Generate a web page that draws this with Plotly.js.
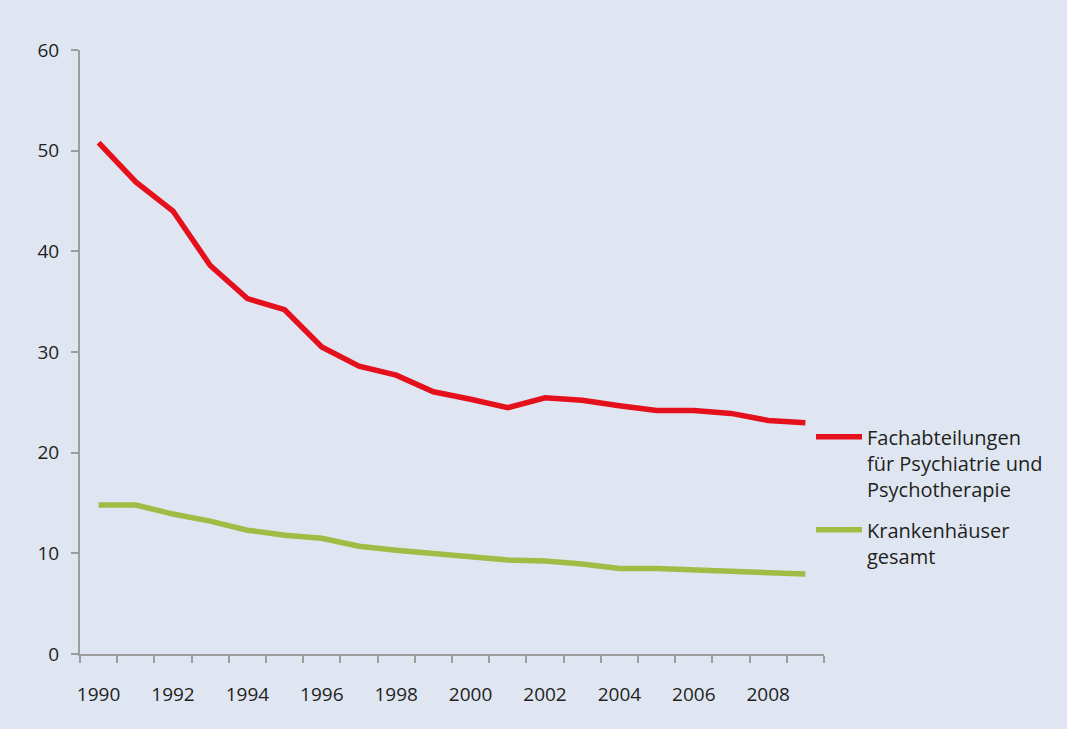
<!DOCTYPE html>
<html>
<head>
<meta charset="utf-8">
<script src="https://cdn.plot.ly/plotly-3.0.1.min.js"></script>
<style>
html,body{margin:0;padding:0;background:#ffffff;}
#chart{width:1067px;height:729px;}
</style>
</head>
<body>
<div id="chart"></div>
<script>
var years = [1990,1991,1992,1993,1994,1995,1996,1997,1998,1999,2000,2001,2002,2003,2004,2005,2006,2007,2008,2009];
var psychiatrie = [50.8,46.9,44.0,38.6,35.3,34.2,30.5,28.6,27.7,26.05,25.3,24.46,25.45,25.2,24.66,24.2,24.2,23.9,23.2,22.97];
var gesamt = [14.8,14.8,13.9,13.2,12.3,11.8,11.5,10.7,10.3,9.93,9.65,9.33,9.23,8.94,8.5,8.5,8.34,8.27,8.01,7.94];
var seriesNames = ["Fachabteilungen<br>für Psychiatrie und<br>Psychotherapie", "Krankenhäuser<br>gesamt"];
var xTickVals = [1990,1992,1994,1996,1998,2000,2002,2004,2006,2008];
var xTickText = ["1990","1992","1994","1996","1998","2000","2002","2004","2006","2008"];
var yTickVals = [0,10,20,30,40,50,60];

var FONT = "Open Sans, Noto Sans, sans-serif";
var traces = [
  {x: years, y: psychiatrie, name: seriesNames[0], type: "scatter", mode: "lines", legendgroup: "a",
   line: {color: "#e4111c", width: 5.5}},
  {x: years, y: gesamt, name: seriesNames[1], type: "scatter", mode: "lines", legendgroup: "b",
   line: {color: "#a1bb45", width: 5.5}}
];
var layout = {
  width: 1067, height: 729,
  paper_bgcolor: "#dfe6f2", plot_bgcolor: "#dfe6f2",
  margin: {l: 80, r: 243, t: 50, b: 75, pad: 0},
  font: {family: FONT, size: 19, color: "#231f20"},
  showlegend: true,
  legend: {x: 0.9825, xanchor: "left", y: 0.392, yanchor: "top", valign: "top",
           bgcolor: "rgba(0,0,0,0)", itemwidth: 46, tracegroupgap: 12,
           font: {family: FONT, size: 20, color: "#231f20"}},
  xaxis: {
    type: "linear", range: [1989.5, 2009.5], showgrid: false, zeroline: false,
    showline: true, linecolor: "#9d9d9d", linewidth: 2,
    tickmode: "array", tickvals: xTickVals, ticktext: xTickText, ticks: "",
    ticklabelstandoff: 22,
    minor: {tick0: 1989.5, dtick: 1, ticks: "outside", ticklen: 7, tickwidth: 2, tickcolor: "#9d9d9d", showgrid: false},
    tickfont: {family: FONT, size: 19, color: "#231f20"}
  },
  yaxis: {
    range: [0, 60], showgrid: false, zeroline: false,
    showline: true, linecolor: "#9d9d9d", linewidth: 2,
    tickmode: "array", tickvals: yTickVals, ticks: "outside", ticklen: 7, tickwidth: 2, tickcolor: "#9d9d9d",
    ticklabelstandoff: 8,
    tickfont: {family: FONT, size: 19, color: "#231f20"}
  }
};
Plotly.newPlot("chart", traces, layout, {displayModeBar: false, staticPlot: true});
</script>
</body>
</html>
